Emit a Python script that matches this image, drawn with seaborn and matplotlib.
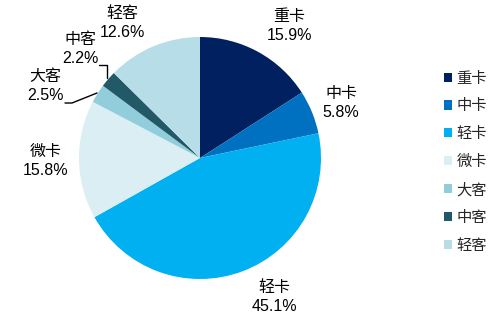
import matplotlib
matplotlib.use("Agg")
import matplotlib.pyplot as plt
import seaborn as sns

categories = ["重卡", "中卡", "轻卡", "微卡", "大客", "中客", "轻客"]
shares = [15.9, 5.8, 45.1, 15.8, 2.5, 2.2, 12.6]
colors = ["#002060", "#0070C0", "#00B0F0", "#DAEEF3", "#92CDDC", "#215967", "#B7DEE8"]

sns.set_theme(style="white")
plt.rcParams['font.family'] = ['Liberation Sans', 'Noto Sans CJK SC', 'DejaVu Sans']

W, H = 492, 313
fig = plt.figure(figsize=(W / 100, H / 100), dpi=100)
cx, cy, r = 200, 158, 121
ax = fig.add_axes([(cx - r) / W, (H - cy - r) / H, 2 * r / W, 2 * r / H])
palette = sns.color_palette(colors)
wedges, _ = ax.pie(shares, colors=palette, startangle=90, counterclock=False,
                   radius=1, wedgeprops=dict(linewidth=0))
ax.set_xlim(-1, 1)
ax.set_ylim(-1, 1)
ax.set_aspect("equal")


def d(px, py):
    return (px - cx) / r, (cy - py) / r


label_pos = [(289, 26), (341, 103), (274, 297), (46, 161), (45, 86), (80, 49), (122, 23)]
for name, val, (px, py) in zip(categories, shares, label_pos):
    x, y = d(px, py)
    ax.text(x, y, f"{name}\n{val:.1f}%", ha="center", va="center", fontsize=11.5,
            color="black", linespacing=1.35, clip_on=False)

# leader lines
for pts in ([(99, 65), (107, 65), (107, 78)], [(65, 103), (72, 103), (97, 93)]):
    xs, ys = zip(*[d(*p) for p in pts])
    ax.plot(xs, ys, color="black", lw=1, clip_on=False)

leg = fig.legend(wedges, categories, loc="upper left",
                 bbox_to_anchor=(436 / W, 1 - 64 / H), frameon=False,
                 fontsize=11, handlelength=0.55, handleheight=0.55,
                 handletextpad=0.3, labelspacing=0.9, borderpad=0)

fig.savefig("out.png", dpi=100)
